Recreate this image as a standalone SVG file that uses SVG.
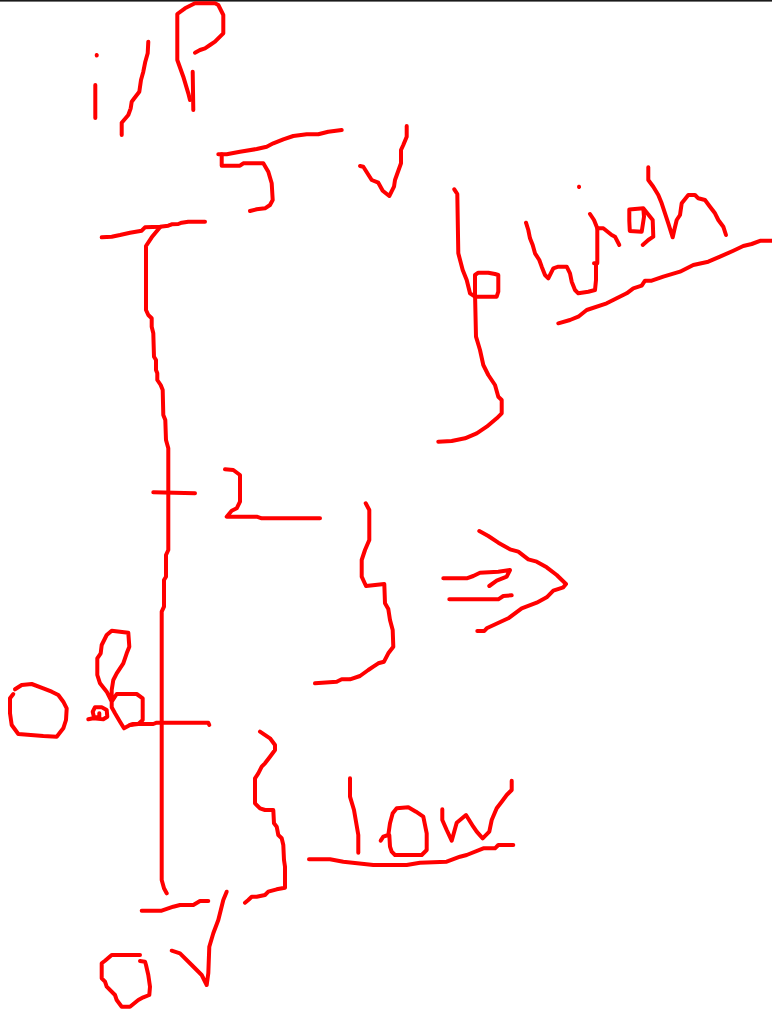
<svg xmlns="http://www.w3.org/2000/svg" width="772" height="1011" viewBox="0 0 772 1011">
<style>
.s{fill:none;stroke:#ff0000;stroke-width:4;stroke-linecap:round;stroke-linejoin:round}
</style>
<rect x="0" y="0" width="772" height="1011" fill="#ffffff"/>
<rect x="0" y="0" width="772" height="1.6" fill="#1a1a1a"/>
<g id="label-iP" class="s">
<polyline points="96.7,55 96.8,55.5"/>
<polyline points="95.3,85 95.3,118"/>
<polyline points="148.3,41.7 147.7,53.3 145.3,61.7 143.3,71.7 141,80 139.3,91.7 134.3,98.3 131.7,101.7 130.7,108.3 128.3,115 121.7,122.7 121.7,135"/>
<polyline points="195,52.7 200,50 205,48.3 210,45 215,41.7 220,36.7 223.3,33.3 223.3,15 218.3,5 215,3.3 195,3.3 185,8.3 177.3,14 177.3,60 183.3,76.7 188.3,93.3 190,100"/>
<polyline points="192.7,71.7 193.3,110"/>
</g>
<g id="label-5V" class="s">
<polyline points="218.3,154.3 226.7,154.3 240,151.7 256.7,149 266.7,146.7 273.3,143.3 283.3,139.3 293.3,136 306.7,134.3 318.3,134.3 328.3,131.7 341.7,130"/>
<polyline points="221.7,154.3 221.7,165.7 240,165.7 243.3,163.3 263.3,163.3 268.3,171.7 271.7,183.3 272.7,200 270,205 265,208.3 256.7,209.3 250,211"/>
<polyline points="360,166 363.3,166.7 371.7,180 378.3,182.7 382.7,190.7 389.3,196 394,186.7 395,180 401,163.3 401,150 403.3,145 406.7,136.7 406.7,126"/>
</g>
<g id="scale" class="s">
<polyline points="101.7,237.3 111.7,236.7 120,235 130,232.7 141.7,230.7 145,227.3 160,226.7 168.3,225.7 171.7,224.3 178.3,224 181.7,222.7 188.3,221.7 205,221.7"/>
<polyline points="160,227.3 151.7,237.3 146,246 146,310 148.3,315 151.7,318.3 151.7,326.7 153.3,333.3 154,356.7 156,360 156,370 157.3,373.3 157.3,380 160.7,385 162.7,390 163.3,415 165.3,420 166,440 168.3,448.3 168.3,550 166,555 166,576.7 164,580 164,606.7 161.7,611.7 161.7,880 164,888.3 166.7,893.3"/>
<polyline points="153.3,492.3 195,493.3"/>
<polyline points="130,725 133.3,724 153.3,724 156.7,722.7 208.3,722.7 209.3,725"/>
<polyline points="141.7,910.7 161.7,910.7 173.3,906.7 180,905 193.3,905 200,901 208.3,901"/>
</g>
<g id="label-2" class="s">
<polyline points="225,469.3 233.3,470 240,475 240,501.7 236.7,508.3 231.7,510.7 226.7,516.7 256.7,516.7 261.7,518.3 320,518.3"/>
</g>
<g id="label-0-6" class="s">
<polyline points="15,689.3 21.7,685 31.7,684 43.3,688.3 51.7,691.7 58.3,695 63.3,701.7 66.7,708.3 66,720 63.3,728.3 56.7,736.7 43.3,736 18.3,734 11.7,725 10,713.3 10,698.3 13.3,694"/>
<polyline points="88.3,719.3 93.3,718.3 103.3,719.3 107.3,716.7 106.7,710 101.7,707.3 95,707.3 92.7,711.7 94,717.3 99.3,717.3 99.3,713.3"/>
<polyline points="111.7,701.7 116.7,694 136.7,694 142.7,698.3 142.7,720 138.3,724 130,725 124,728.3 120,721.7 115,713.3 111.7,707.3 111.7,701.7 106.7,691.7 100,683.3 97.3,675 97.3,658.3 100.7,653.3 101.7,645 106.7,635 111.7,630.7 128.3,632.7 129.3,646.7 126.7,653.3 123.3,663.3 116.7,673.3 113.3,680 111.7,690 111.7,701.7"/>
</g>
<g id="label-0V" class="s">
<polyline points="140,955 111.7,955 105,960.7 101.7,963.3 101.7,978.3 105,981.7 106.7,986.7 115,995 116.7,1000 121.7,1006.7 130,1006.7 138.3,1000 143.3,997.3 149.3,995 150,986.7 148.3,975 146,965 145,961.7 140,961"/>
<polyline points="171.7,950.7 180,953.3 191.7,965 201.7,975 206.7,985 208.3,973.3 209.3,946.7 213.3,933.3 218.3,920 223.3,900 226.7,891.7"/>
</g>
<g id="brace-high" class="s">
<polyline points="454.3,189.3 457.3,194 458.3,253.3 462.7,270 466.7,280 470,293.3 475,296.7 496.7,296.7 498.3,291.7 498.3,275 495,274 488.3,272.7 478.3,272.7 475,275 475,293.3 476,336.7 480,350 483.3,365 488.3,375 495,385 498.3,396.7 501.7,400 501.7,413.3 496.7,418.3 486.7,426.7 476.7,433.3 465,438.3 451.7,441 438.3,441.7"/>
</g>
<g id="label-high" class="s">
<polyline points="526,222.7 528.3,230 530,238.3 532.7,245 535,253.3 539.3,260 541.7,266.7 545,275 548.3,278.3 553.3,268.3 558.3,266.7 566.7,266.7 570,273.3 571.7,281.7 575,290 578.3,293.3 588.3,291.7 595,290 596,280 596,263.3 594,263.3"/>
<polyline points="590,214 594,220 597.3,228.3 597.3,263.3"/>
<polyline points="597.3,228.3 603.3,228.3 611.7,235 615,236.7 619.3,245"/>
<polyline points="579,186.7 579.1,187"/>
<polyline points="643.3,208.3 629.3,209.5 629.3,221 629.8,231 641.7,231.7 644,216.7 643.3,208.3 652.7,220 653.3,236.7 648.3,240 642.7,245"/>
<polyline points="648.3,167.3 648.3,180 653.3,186.7 658.3,195 661.7,203.3 665,213.3 668.3,223.3 672.7,237.3 674.3,230 676.7,220 680,215 681.7,203.3 688.3,195 695,195 698.3,198.3 705,200 710,206.7 715,213.3 718.3,220 723.3,226.7 726,235"/>
<polyline points="558.3,323.3 570,320 578.3,316.7 586.7,310 606.7,303.3 616.7,298.3 626.7,293.3 633.3,288.3 641.7,285.7 645,280.7 651.7,280.7 663.3,276.7 680,271.7 693.3,265 708.3,261.7 720,256.7 733.3,250.7 743.3,246 751.7,244 760.7,240.7 772,240.7"/>
</g>
<g id="brace-mid" class="s">
<polyline points="365.7,503.3 369.3,510 369.3,540 365,550 361.7,560 361.7,576.7 366,586 384.3,584 385,603.3 388.3,609 390,620 392.7,630 393.3,646.7 388.3,653.3 384,661.7 378.3,663.3 373.3,666.7 368.3,670 360,676 350,679.3 341.7,679.3 336.7,681.7 315,683.3"/>
</g>
<g id="arrow-implies" class="s">
<polyline points="443.3,578.3 466.7,578.3 473.3,576 480,572.7 498.3,571.7 510,570 506.7,576.7 496.7,580.7 489.3,586"/>
<polyline points="449.3,599.3 498.3,599.3 503.3,596 511.7,595.3"/>
<polyline points="479.3,531 488.3,536 498.3,542.7 510,549.3 518.3,551.7 528.3,559.3 536.7,561.7 546.7,567.3 556.7,575 566,584 563.3,587.3 553.3,590.7 546.7,597.3 536.7,602.7 521.7,608.3 508.3,618.3 486.7,628.3 484.3,631 477.3,631"/>
</g>
<g id="brace-low" class="s">
<polyline points="260,731.7 270,738.3 275,745 275,750 270,756.7 265,763.3 261.7,766.7 258.3,773.3 255,778.3 255,803.3 260,808.3 265,810 273.3,810 274,823.3 276.7,826.7 278.3,835 281.7,838.3 283.3,845 284,860 285,866.7 285,887.7 276.7,889.3 268.3,891.7 265,895 256.7,896.7 251.7,896.7 248.3,900 245,902.7"/>
</g>
<g id="label-low" class="s">
<polyline points="350,778.3 350,796.7 354,810 358.3,835 358.3,852.7"/>
<polyline points="380.7,840.7 383.3,836.7 388.3,835 390,823.3 392.7,813.3 396.7,808.3 408.3,807.3 416,811.7 423.3,816.7 426.7,833.3 426.7,850 421.7,855 395,855 391.7,851.7 390,846.7 389.3,835"/>
<polyline points="442.3,809.3 442.3,820 446.7,830 451.7,840.7 456.7,822.7 466,815 473.3,826.7 476.7,831.7 482.7,838.3 489.3,831.7 491.7,820 496.7,808.3 501.7,801.7 506.7,795 511.7,790 511.7,780.7"/>
<polyline points="309,859.3 330,859.3 343.3,861.7 373.3,865 406.7,865 420,862.7 446.7,861.7 460,856.7 466.7,855 483.3,848.3 495,848.3 498.3,845 513.3,845"/>
</g>
</svg>
